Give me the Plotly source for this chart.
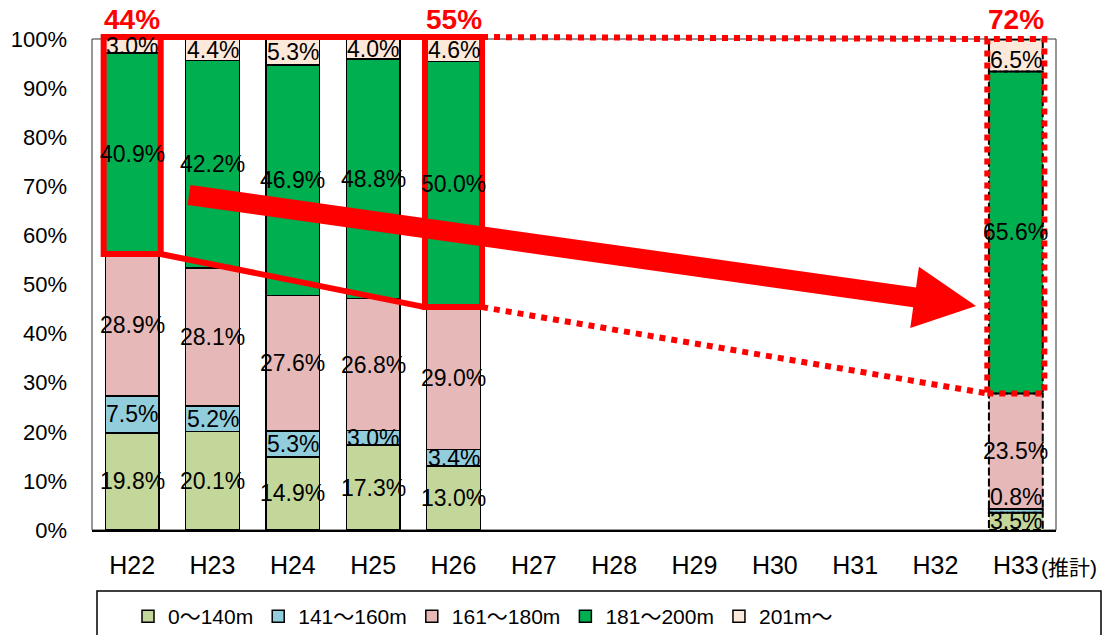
import plotly.graph_objects as go
import math

# ---------------- data ----------------
categories = ["H22", "H23", "H24", "H25", "H26", "H27", "H28", "H29", "H30", "H31", "H32", "H33"]
series_names = ["0～140m", "141～160m", "161～180m", "181～200m", "201m～"]
s_0_140 = [19.8, 20.1, 14.9, 17.3, 13.0, None, None, None, None, None, None, 3.5]
s_141_160 = [7.5, 5.2, 5.3, 3.0, 3.4, None, None, None, None, None, None, 0.8]
s_161_180 = [28.9, 28.1, 27.6, 26.8, 29.0, None, None, None, None, None, None, 23.5]
s_181_200 = [40.9, 42.2, 46.9, 48.8, 50.0, None, None, None, None, None, None, 65.6]
s_201 = [3.0, 4.4, 5.3, 4.0, 4.6, None, None, None, None, None, None, 6.5]
y_ticks = [0, 10, 20, 30, 40, 50, 60, 70, 80, 90, 100]
y_tick_labels = ["0%", "10%", "20%", "30%", "40%", "50%", "60%", "70%", "80%", "90%", "100%"]
colors = ["#C4D79B", "#92CDDC", "#E6B9B8", "#00B050", "#FDE9D9"]
series = [s_0_140, s_141_160, s_161_180, s_181_200, s_201]
estimate_idx = 11          # H33 (推計)
highlight_idx = [0, 4]     # H22, H26

# ---------------- layout constants ----------------
W, H = 1106, 635
ML, MR, MT, MB = 92, 50, 39, 105
PW, PH = W - ML - MR, H - MT - MB
NCAT = len(categories)
BARGAP = 0.33
HALF = (1 - BARGAP) / 2
FONT = "Liberation Sans, Arial, Noto Sans CJK JP"
NARROW = "Liberation Sans Narrow, Arial Narrow, Liberation Sans, Noto Sans CJK JP"
RED = "#FF0000"


def px2x(px):
    return (px - ML) / (PW / NCAT) - 0.5


def py2p(py):
    # pixel y -> paper fraction
    return (MT + PH - py) / PH


fig = go.Figure()
line_w = [0 if i == estimate_idx else 1.5 for i in range(NCAT)]
for name, vals, col in zip(series_names, series, colors):
    fig.add_trace(go.Bar(
        x=categories, y=vals, name=name,
        marker=dict(color=col, line=dict(color="black", width=line_w)),
        hoverinfo="skip",
    ))

annotations = []
shapes = []

# data labels and dashed outlines for estimate bar
for i in range(NCAT):
    base = 0.0
    for k, vals in enumerate(series):
        v = vals[i]
        if v is None:
            continue
        yshift = 0
        if i == estimate_idx and k == 1:
            yshift = 14
        if i == estimate_idx and k == 4:
            yshift = -5
        annotations.append(dict(
            x=i, y=base + v / 2, xref="x", yref="y", text=f"{v:.1f}%",
            showarrow=False, font=dict(family=FONT, size=23, color="black"),
            yshift=yshift,
        ))
        if i == estimate_idx:
            shapes.append(dict(
                type="rect", xref="x", yref="y", x0=i - HALF, x1=i + HALF,
                y0=base, y1=base + v, line=dict(color="black", width=2, dash="8px,3px"),
                layer="above",
            ))
        base += v


def top_share(i):
    return s_181_200[i] + s_201[i]


def lower_share(i):
    return s_0_140[i] + s_141_160[i] + s_161_180[i]


# highlight rectangles (y in paper fraction = value / 100)
pad = 0.02
rects = {}
for i in highlight_idx + [estimate_idx]:
    x0, x1 = i - HALF - pad, i + HALF + pad
    y0 = lower_share(i) / 100
    y1 = 1.004 if i != estimate_idx else 1.0
    rects[i] = (x0, x1, y0, y1)
    dash = "dot" if i == estimate_idx else "solid"
    shapes.append(dict(type="rect", xref="x", yref="paper", x0=x0, x1=x1, y0=y0, y1=y1,
                       line=dict(color=RED, width=6, dash=dash), layer="above"))
    annotations.append(dict(
        x=i, y=1.0, xref="x", yref="paper", text=f"<b>{round(top_share(i))}%</b>",
        showarrow=False, yanchor="bottom", yshift=2,
        font=dict(family=FONT, size=28, color=RED),
    ))

a, b, c = rects[0], rects[4], rects[estimate_idx]
shapes.append(dict(type="line", xref="x", yref="paper", x0=a[1], y0=a[3], x1=b[0], y1=b[3],
                   line=dict(color=RED, width=6), layer="above"))
shapes.append(dict(type="line", xref="x", yref="paper", x0=a[1], y0=a[2], x1=b[0], y1=b[2],
                   line=dict(color=RED, width=6), layer="above"))
shapes.append(dict(type="line", xref="x", yref="paper", x0=b[1], y0=b[3], x1=c[0], y1=c[3],
                   line=dict(color=RED, width=6, dash="dot"), layer="above"))
shapes.append(dict(type="line", xref="x", yref="paper", x0=b[1], y0=b[2], x1=c[0], y1=c[2],
                   line=dict(color=RED, width=6, dash="dot"), layer="above"))

# big arrow (pixel geometry -> x data / paper y)
ax, ay = 189, 195
tx, ty = 976, 306
L = math.hypot(tx - ax, ty - ay)
ux, uy = (tx - ax) / L, (ty - ay) / L
nx, ny = -uy, ux
hl, hw, sw = 62, 31, 10
bx, by = tx - hl * ux, ty - hl * uy
pts = [
    (ax - sw * nx, ay - sw * ny),
    (bx - sw * nx, by - sw * ny),
    (bx - hw * nx, by - hw * ny),
    (tx, ty),
    (bx + hw * nx, by + hw * ny),
    (bx + sw * nx, by + sw * ny),
    (ax + sw * nx, ay + sw * ny),
]
path = "M " + " L ".join(f"{px2x(p[0]):.4f},{py2p(p[1]):.4f}" for p in pts) + " Z"
shapes.append(dict(type="path", xref="x", yref="paper", path=path,
                   fillcolor=RED, line=dict(color=RED, width=0), layer="above"))

# plot frame
shapes.append(dict(type="rect", xref="paper", yref="paper", x0=0, x1=1, y0=0, y1=1,
                   line=dict(color="#333333", width=1), layer="below"))
# legend frame
shapes.append(dict(type="rect", xref="paper", yref="paper",
                   x0=(97 - ML) / PW, x1=(1101 - ML) / PW,
                   y0=py2p(660), y1=py2p(591),
                   line=dict(color="black", width=1.5)))

# (推計) suffix next to H33 tick
annotations.append(dict(
    x=estimate_idx, y=py2p(567), xref="x", yref="paper",
    text="(推計)", showarrow=False, xanchor="left", yanchor="middle", xshift=23,
    font=dict(family="Liberation Sans, Noto Sans CJK JP", size=21, color="black"),
))

fig.update_layout(
    width=W, height=H,
    margin=dict(l=ML, r=MR, t=MT, b=MB, autoexpand=False),
    barmode="stack", bargap=BARGAP,
    plot_bgcolor="white", paper_bgcolor="white",
    font=dict(family=FONT, color="black"),
    xaxis=dict(range=[-0.5, NCAT - 0.5], showline=True, linecolor="black", linewidth=2,
               showgrid=False, ticks="", tickfont=dict(size=25), ticklabelstandoff=12,
               fixedrange=True),
    yaxis=dict(range=[0, 100], tickvals=y_ticks, ticktext=y_tick_labels, showgrid=False,
               zeroline=False, showline=False, ticks="", tickfont=dict(size=22),
               ticklabelstandoff=24, fixedrange=True),
    legend=dict(orientation="h", x=(128 - ML) / PW, xanchor="left",
                y=py2p(596), yanchor="top",
                font=dict(size=21, family=NARROW), itemwidth=30, traceorder="normal",
                bgcolor="rgba(0,0,0,0)"),
    showlegend=True,
    shapes=shapes, annotations=annotations,
)

fig.write_html("out.html")
